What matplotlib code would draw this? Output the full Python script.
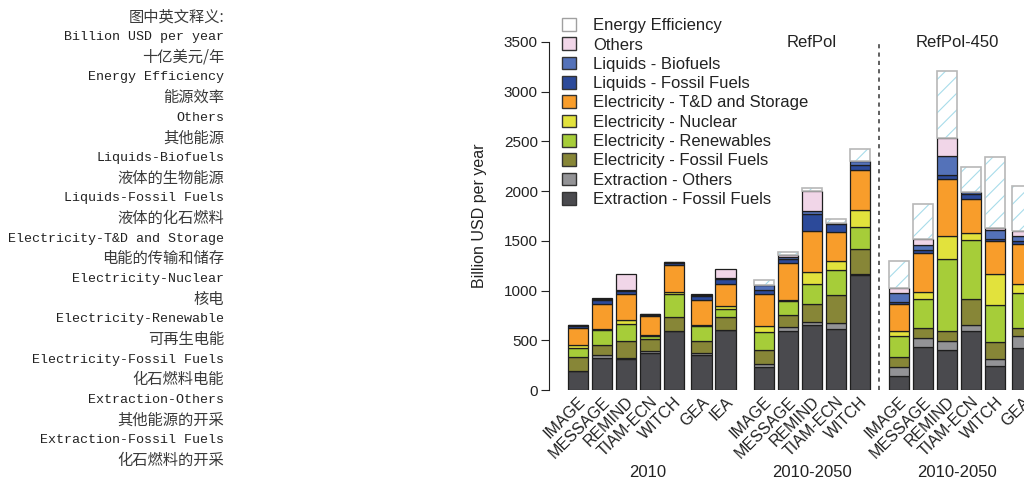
import numpy as np
import matplotlib
matplotlib.use("Agg")
import matplotlib.pyplot as plt
from matplotlib.patches import Patch

plt.rcParams['font.family'] = ['Liberation Sans', 'DejaVu Sans']
plt.rcParams['hatch.linewidth'] = 0.8

# models per bar, grouped: 2010 / 2010-2050 RefPol / 2010-2050 RefPol-450
models_2010 = ['IMAGE', 'MESSAGE', 'REMIND', 'TIAM-ECN', 'WITCH', 'GEA', 'IEA']
models_refpol = ['IMAGE', 'MESSAGE', 'REMIND', 'TIAM-ECN', 'WITCH']
models_450 = ['IMAGE', 'MESSAGE', 'REMIND', 'TIAM-ECN', 'WITCH', 'GEA']

group_labels = ['2010', '2010-2050', '2010-2050']
scenario_labels = ['RefPol', 'RefPol-450']

# stacked values (billion USD per year), bottom to top
ext_ff  = [187, 317, 310, 374, 595, 357, 601, 227, 592, 649, 612, 1154, 144, 428, 401, 592, 241, 418]
ext_oth = [5, 30, 8, 17, 0, 17, 0, 30, 37, 30, 57, 17, 83, 90, 91, 57, 70, 124]
elec_ff = [142, 107, 173, 120, 143, 114, 134, 144, 127, 190, 284, 250, 101, 104, 100, 267, 174, 77]
renew   = [90, 147, 174, 37, 224, 153, 83, 181, 140, 194, 254, 218, 214, 298, 729, 595, 368, 357]
nuclear = [27, 10, 43, 10, 23, 10, 27, 57, 10, 121, 91, 174, 47, 66, 224, 71, 311, 87]
td_stor = [177, 257, 261, 183, 268, 257, 217, 324, 371, 414, 294, 401, 274, 392, 578, 341, 331, 408]
liq_ff  = [20, 34, 26, 10, 23, 37, 50, 40, 44, 168, 80, 53, 23, 26, 41, 50, 27, 30]
liq_bio = [3, 10, 14, 16, 13, 10, 10, 54, 20, 33, 10, 40, 90, 57, 194, 23, 83, 47]
others  = [0, 13, 153, 0, 0, 13, 94, 0, 13, 201, 0, 0, 54, 57, 173, 0, 24, 50]
eff     = [0, 0, 0, 0, 0, 0, 0, 47, 34, 30, 34, 117, 267, 348, 673, 244, 712, 452]

series = [
    ('Extraction - Fossil Fuels', ext_ff, '#4a4a4e'),
    ('Extraction - Others', ext_oth, '#939396'),
    ('Electricity - Fossil Fuels', elec_ff, '#878637'),
    ('Electricity - Renewables', renew, '#a6cd39'),
    ('Electricity - Nuclear', nuclear, '#e2e23c'),
    ('Electricity - T&D and Storage', td_stor, '#f89d2b'),
    ('Liquids - Fossil Fuels', liq_ff, '#2c4a9a'),
    ('Liquids - Biofuels', liq_bio, '#5472b9'),
    ('Others', others, '#f1d6e8'),
]

# bar positions: unit spacing, small gap before GEA/IEA, larger gap between groups
offsets = [0, 1, 2, 3, 4, 5.15, 6.15]
pos = []
starts = [0, 7.75, 13.375]
for s, ms in zip(starts, [models_2010, models_refpol, models_450]):
    pos += [s + offsets[i] for i in range(len(ms))]
pos = np.array(pos)
labels = models_2010 + models_refpol + models_450

fig = plt.figure(figsize=(10.24, 4.84), dpi=100)
ax = fig.add_axes([549/1024, 94/484, 1 - 549/1024, 348/484])

w = 0.85
bottom = np.zeros(len(pos))
for name, vals, col in series:
    v = np.array(vals, dtype=float)
    ax.bar(pos, v, w, bottom=bottom, color=col, edgecolor='#1e1e1e', linewidth=0.9)
    bottom += v
e = np.array(eff, dtype=float)
m = e > 0
ax.bar(pos[m], e[m], w, bottom=bottom[m], color='white', edgecolor='#a8dcea',
       hatch='//', linewidth=0)
ax.bar(pos[m], e[m], w, bottom=bottom[m], fill=False, edgecolor='#b8b8b8', linewidth=1.2)

ax.set_xlim(-1.2, (1024 - 578) / 24)
ax.set_ylim(0, 3500)
for s in ['top', 'right', 'bottom']:
    ax.spines[s].set_visible(False)
ax.spines['left'].set_bounds(0, 3500)
ax.spines['left'].set_color('#222222')
ax.set_yticks(np.arange(0, 3501, 500))
ax.tick_params(axis='y', direction='out', length=6, pad=2, labelsize=11, colors='#222222')
ax.set_xticks(pos)
ax.set_xticklabels(labels, rotation=45, ha='right', rotation_mode='anchor',
                   fontsize=11.5, color='#222222')
ax.tick_params(axis='x', length=0, pad=3)
ax.set_ylabel('Billion USD per year', fontsize=11.5, color='#222222')
ax.yaxis.set_label_coords(-62 / 475, 0.5)

# separator between scenarios
sep = (pos[11] + pos[12]) / 2
ax.plot([sep, sep], [0, 3500], ls=(0, (2.5, 2.5)), color='#444444', lw=1.2, clip_on=False)

ax.text(pos[7:12].mean(), 3490, scenario_labels[0], ha='center', va='center',
        fontsize=12, color='#222222')
ax.text(15.8, 3490, scenario_labels[1], ha='center', va='center',
        fontsize=12, color='#222222')

grp_x = [pos[0:7].mean() - 0.15, pos[7:12].mean(), 15.8]
for gx, gl in zip(grp_x, group_labels):
    ax.text(gx, -0.236, gl, transform=ax.get_xaxis_transform(), ha='center',
            va='center', fontsize=12, color='#222222', clip_on=False)

# legend (top entry first)
handles = [Patch(facecolor='white', edgecolor='#a0a0a0', linewidth=1)]
names = ['Energy Efficiency']
for name, vals, col in reversed(series):
    handles.append(Patch(facecolor=col, edgecolor='#333333', linewidth=1))
    names.append(name)
leg = fig.legend(handles, names, loc='upper left', bbox_to_anchor=(562/1024, 1 - 18/484),
                 frameon=False, fontsize=12, handlelength=0.85, handleheight=0.8,
                 handletextpad=1.0, labelspacing=0.25, borderpad=0, borderaxespad=0)
for t in leg.get_texts():
    t.set_color('#222222')

# glossary on the left
gloss = [
    ('图中英文释义:', 'cn'), ('Billion USD per year', 'en'), ('十亿美元/年', 'cn'),
    ('Energy Efficiency', 'en'), ('能源效率', 'cn'), ('Others', 'en'), ('其他能源', 'cn'),
    ('Liquids-Biofuels', 'en'), ('液体的生物能源', 'cn'),
    ('Liquids-Fossil Fuels', 'en'), ('液体的化石燃料', 'cn'),
    ('Electricity-T&D and Storage', 'en'), ('电能的传输和储存', 'cn'),
    ('Electricity-Nuclear', 'en'), ('核电', 'cn'),
    ('Electricity-Renewable', 'en'), ('可再生电能', 'cn'),
    ('Electricity-Fossil Fuels', 'en'), ('化石燃料电能', 'cn'),
    ('Extraction-Others', 'en'), ('其他能源的开采', 'cn'),
    ('Extraction-Fossil Fuels', 'en'), ('化石燃料的开采', 'cn'),
]
for i, (txt, kind) in enumerate(gloss):
    y = 1 - (17 + i * 20.15) / 484
    if kind == 'cn':
        fig.text(224/1024, y, txt, ha='right', va='center', fontsize=11,
                 family=['Noto Sans CJK SC', 'DejaVu Sans'], color='#3a3a3a')
    else:
        fig.text(224/1024, y, txt, ha='right', va='center', fontsize=9.6,
                 family=['Liberation Mono', 'DejaVu Sans Mono'], color='#222222')

fig.savefig('out.png', dpi=100)
